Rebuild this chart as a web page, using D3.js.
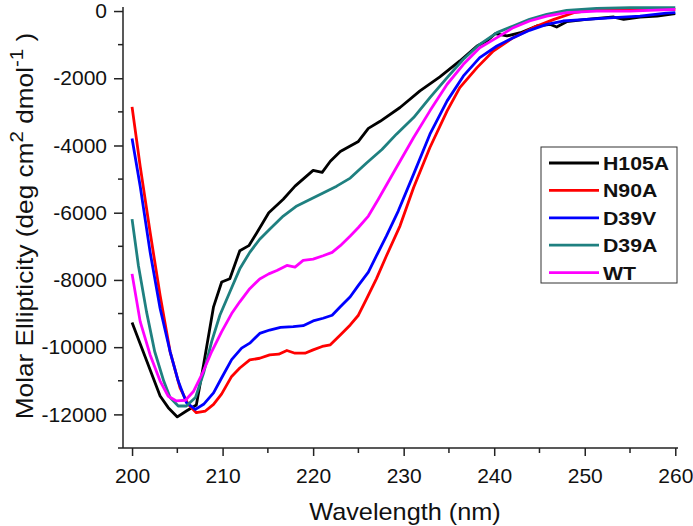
<!DOCTYPE html>
<html>
<head>
<meta charset="utf-8">
<script src="https://cdn.jsdelivr.net/npm/d3@7"></script>
<style>
  body { margin: 0; background: #fff; }
  text { font-family: "Liberation Sans", Arial, sans-serif; }
</style>
</head>
<body>
<div id="chart"></div>
<script>
// [wavelength nm, molar ellipticity]
const h105a = [[200,-9263],[203.1,-11455],[204,-11800],[205,-12075],[206,-11900],[207.1,-11720],[207.9,-10520],
  [209,-8800],[209.9,-8063],[210.8,-7965],[211.9,-7130],[212.9,-6980],[213.8,-6590],[215.1,-6000],[216.7,-5600],
  [218,-5210],[220,-4740],[221,-4800],[221.9,-4470],[223,-4180],[225,-3880],[226.1,-3490],[227.4,-3280],[229.6,-2870],
  [231.8,-2376],[234,-1960],[236.2,-1485],[238.1,-1040],[239.2,-890],[240.1,-674],[241.4,-742],[242.9,-644],
  [244.7,-445],[246.2,-396],[246.9,-475],[248,-317],[250.2,-248],[253.2,-178],[254.3,-248],[256.1,-178],[258,-149],[260,-80]];
const n90a = [[200,-2850],[200.9,-4620],[202,-6590],[203.1,-8460],[204.2,-10130],[205.3,-11210],[206.2,-11700],
  [207.1,-11950],[208.1,-11900],[209,-11700],[209.9,-11390],[211,-10870],[211.9,-10620],[213,-10380],[214.1,-10330],
  [215.2,-10230],[216.2,-10210],[217.1,-10100],[218,-10180],[219.1,-10180],[220,-10080],[221,-9980],[221.9,-9930],
  [223,-9640],[224.1,-9340],[225,-9050],[225.9,-8560],[227,-7960],[228.1,-7280],[229.6,-6390],[231.1,-5248],
  [232.9,-4060],[234.8,-2970],[236.2,-2278],[238.1,-1684],[239.9,-1188],[242.1,-792],[244.3,-495],[246.6,-248],
  [248.8,-50],[251.3,40],[255,70],[260,40]];
const d39v = [[200,-3790],[200.9,-5210],[202,-7180],[203.1,-8850],[204.2,-10130],[205.1,-11010],[206,-11650],
  [207,-11850],[207.9,-11700],[209,-11360],[209.9,-10910],[211,-10370],[212.1,-10030],[213,-9880],[214.1,-9590],
  [215.2,-9490],[216.4,-9410],[217.8,-9390],[218.9,-9360],[220,-9220],[221.1,-9140],[222.1,-9050],[223,-8800],
  [224.1,-8500],[225,-8160],[226.1,-7770],[227,-7280],[228.1,-6690],[229.4,-5950],[231.1,-4851],[232.9,-3663],
  [234.8,-2673],[236.6,-1930],[238.4,-1386],[240.3,-1040],[242.1,-792],[243.9,-574],[245.8,-396],[247.6,-297],
  [250.2,-248],[253.2,-198],[256.1,-149],[259,-60],[260,-50]];
const d39a = [[200,-6190],[200.7,-7570],[201.6,-8950],[202.5,-10130],[203.5,-11010],[204.2,-11500],[205.1,-11750],
  [206,-11750],[207,-11500],[207.9,-10770],[208.8,-9830],[209.7,-9050],[210.8,-8360],[211.9,-7670],[213,-7180],
  [214.1,-6790],[215.2,-6490],[216.7,-6100],[218.2,-5800],[219.7,-5600],[221.1,-5410],[222.6,-5210],[224.1,-4970],
  [225.9,-4520],[227.6,-4120],[229.2,-3663],[231.1,-3168],[232.9,-2574],[234.8,-1980],[236.6,-1436],[238.4,-990],
  [240.3,-643],[242.1,-445],[243.9,-248],[245.8,-99],[248,20],[251.3,80],[255,100],[260,100]];
const wt = [[200,-7820],[200.9,-9240],[202,-10230],[203.1,-11010],[204,-11460],[204.9,-11600],[205.9,-11580],
  [206.8,-11310],[207.7,-10820],[208.8,-10130],[209.9,-9540],[211,-9000],[211.9,-8650],[213,-8260],[214.1,-7970],
  [215.1,-7820],[216,-7720],[217.1,-7570],[218,-7620],[218.9,-7420],[220,-7380],[221.1,-7280],[222.1,-7180],
  [223,-6980],[224.1,-6690],[225,-6440],[226.1,-6100],[227.2,-5600],[229.2,-4653],[231.1,-3762],[232.9,-2970],
  [234.8,-2178],[236.6,-1584],[238.4,-1090],[240.3,-792],[242.1,-495],[243.9,-297],[245.8,-149],[248,-50],
  [251.3,0],[255,0],[260,50]];

const seriesNames = ["H105A", "N90A", "D39V", "D39A", "WT"];
const seriesData = [h105a, n90a, d39v, d39a, wt];
const seriesColors = ["#000000", "#ff0000", "#0000ff", "#1f8080", "#ff00ff"];
const xTicks = [200, 210, 220, 230, 240, 250, 260];
const yTicks = [0, -2000, -4000, -6000, -8000, -10000, -12000];

const width = 693, height = 526;
const svg = d3.select('#chart').append('svg')
  .attr('width', width)
  .attr('height', height);

const x = d3.scaleLinear().domain([199, 260.3]).range([123, 678]);
const y = d3.scaleLinear().domain([-13000, 120]).range([448, 7]);

// axes
const xAxis = d3.axisBottom(x).tickValues(xTicks).tickSize(8).tickPadding(12).tickFormat(d => String(d));
const gx = svg.append('g').attr('transform', 'translate(0,448)').call(xAxis);
gx.select('.domain').attr('d', `M123,0H678`).attr('stroke-width', 1.5).attr('stroke', '#222');
gx.selectAll('.tick line').attr('stroke-width', 1.5).attr('stroke', '#222');
gx.selectAll('.tick text').attr('font-size', 21).attr('fill', '#111');
gx.selectAll('.minor').data(d3.range(205, 260, 10)).enter().append('line')
  .attr('x1', d => x(d)).attr('x2', d => x(d))
  .attr('y1', 0).attr('y2', 5)
  .attr('stroke', '#222').attr('stroke-width', 1.5);

const yAxis = d3.axisLeft(y).tickValues(yTicks).tickSize(9).tickPadding(7).tickFormat(d => String(d));
const gy = svg.append('g').attr('transform', 'translate(123,0)').call(yAxis);
gy.select('.domain').attr('d', `M0,448V7`).attr('stroke-width', 1.5).attr('stroke', '#222');
gy.selectAll('.tick line').attr('stroke-width', 1.5).attr('stroke', '#222');
gy.selectAll('.tick text').attr('font-size', 21).attr('fill', '#111');
gy.selectAll('.minor').data(d3.range(-1000, -13001, -2000)).enter().append('line')
  .attr('y1', d => y(d)).attr('y2', d => y(d))
  .attr('x1', 0).attr('x2', -5)
  .attr('stroke', '#222').attr('stroke-width', 1.5);

// axis titles
svg.append('text')
  .attr('transform', `translate(405,520) scale(1.1,1)`)
  .attr('text-anchor', 'middle')
  .attr('font-size', 23)
  .attr('fill', '#111')
  .text('Wavelength (nm)');

const yt = svg.append('text')
  .attr('transform', 'translate(33,226) rotate(-90) scale(1.14,1)')
  .attr('text-anchor', 'middle')
  .attr('font-size', 23)
  .attr('fill', '#111');
yt.append('tspan').text('Molar Ellipticity (deg cm');
yt.append('tspan').attr('dy', -10).attr('font-size', 18).text('2');
yt.append('tspan').attr('dy', 10).text(' dmol');
yt.append('tspan').attr('dy', -10).attr('font-size', 18).text('-1');
yt.append('tspan').attr('dy', 10).text(' )');

// curves
const line = d3.line().x(d => x(d[0])).y(d => y(d[1]));
seriesData.forEach(function(data, i) {
  svg.append('path')
    .datum(data)
    .attr('d', line)
    .attr('fill', 'none')
    .attr('stroke', seriesColors[i])
    .attr('stroke-width', 2.8)
    .attr('stroke-linejoin', 'round');
});

// legend
const legend = svg.append('g').attr('transform', 'translate(541,147)');
legend.append('rect')
  .attr('x', 0).attr('y', 0)
  .attr('width', 136).attr('height', 136)
  .attr('fill', '#fff').attr('stroke', '#333').attr('stroke-width', 1);
seriesNames.forEach(function(name, i) {
  const ly = 16 + i * 27.4;
  legend.append('line')
    .attr('x1', 8).attr('x2', 58)
    .attr('y1', ly).attr('y2', ly)
    .attr('stroke', seriesColors[i]).attr('stroke-width', 2.8);
  legend.append('text')
    .attr('transform', `translate(62,${ly + 7}) scale(1.15,1)`)
    .attr('font-size', 18.5)
    .attr('font-weight', 'bold')
    .attr('fill', '#111')
    .text(name);
});
</script>
</body>
</html>
